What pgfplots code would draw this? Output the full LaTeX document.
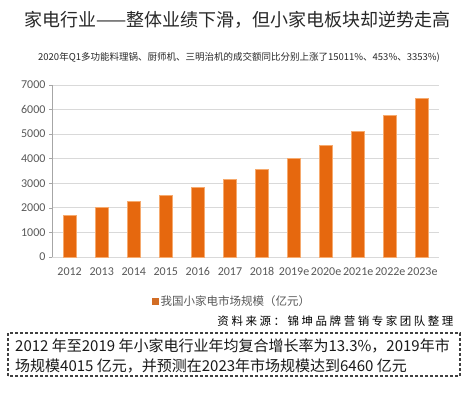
\documentclass[border=0pt]{standalone}
\usepackage{fontspec}
\usepackage{pgfplots}
\pgfplotsset{compat=1.18}
\setmainfont{Carlito}
\newfontfamily\cjk{Noto Sans CJK SC}
\definecolor{barorange}{RGB}{230,104,14}
\definecolor{barglow}{RGB}{246,170,110}
\definecolor{ticktext}{RGB}{89,89,89}
\definecolor{gridc}{RGB}{217,217,217}
\definecolor{titlec}{RGB}{40,40,40}
\begin{document}
\begin{tikzpicture}
\path[fill=white] (0pt,0pt) rectangle (469pt,392pt);
\begin{axis}[
  at={(52pt,135pt)}, anchor=south west,
  scale only axis, width=387pt, height=172pt,
  ybar, bar width=13pt,
  xmin=-0.55, xmax=11.52,
  ymin=0, ymax=7000,
  ytick={0,1000,...,7000},
  xtick=data,
  xticklabels={2012,2013,2014,2015,2016,2017,2018,2019e,2020e,2021e,2022e,2023e},
  /pgf/number format/assume math mode=true,
  yticklabel style={/pgf/number format/fixed, /pgf/number format/1000 sep={}, font=\fontsize{12}{12}\selectfont, text=ticktext},
  xticklabel style={font=\fontsize{12}{12}\selectfont, text=ticktext, yshift=-4pt},
  major x tick style={draw=none},
  major y tick style={draw=gray!70, line width=0.6pt},
  tick align=outside, major tick length=3pt,
  ymajorgrids, grid style={gridc, line width=0.8pt},
  axis x line*=bottom, axis y line*=left,
  x axis line style={draw=gridc, line width=0.8pt, -},
  y axis line style={draw=gray!70, line width=0.6pt, -},
  legend style={at={(0.465,-0.255)}, anchor=center, draw=none, fill=none,
    font=\cjk\fontsize{11.5}{12}\selectfont, text=ticktext},
  legend image code/.code={\fill[barorange!80!gray] (0pt,-3pt) rectangle (6pt,3pt);},
]
\addplot[fill=barorange, draw=barglow, line width=0.7pt] coordinates {
(0,1680) (1,2035) (2,2267) (3,2495) (4,2821) (5,3162) (6,3569) (7,4015) (8,4545) (9,5128) (10,5779) (11,6460)};
\addlegendentry{我国小家电市场规模（亿元）}
\end{axis}
\node[font=\cjk\fontsize{18}{18}\selectfont, text=titlec] at (237.5pt,372pt) {家电行业——整体业绩下滑，但小家电板块却逆势走高};
\node[font=\cjk\fontsize{9.5}{10}\selectfont, text=titlec] at (239pt,335pt) {2020年Q1多功能料理锅、厨师机、三明治机的成交额同比分别上涨了15011\%、453\%、3353\%)};
\node[font=\cjk\fontsize{11.5}{12}\selectfont\addfontfeatures{LetterSpace=22}, anchor=east, text=black] at (457pt,71pt) {资料来源：锦坤品牌营销专家团队整理};
\draw[dash pattern=on 3pt off 2pt, line width=1.1pt, draw=black!75] (8pt,16pt) rectangle (460pt,59pt);
\node[font=\cjk\fontsize{15}{15}\selectfont, anchor=west, inner sep=0pt, text=black!90] at (15pt,46pt) {2012 年至2019 年小家电行业年均复合增长率为13.3\%，2019年市};
\node[font=\cjk\fontsize{15}{15}\selectfont, anchor=west, inner sep=0pt, text=black!90] at (15pt,26pt) {场规模4015 亿元，并预测在2023年市场规模达到6460 亿元};
\end{tikzpicture}
\end{document}
